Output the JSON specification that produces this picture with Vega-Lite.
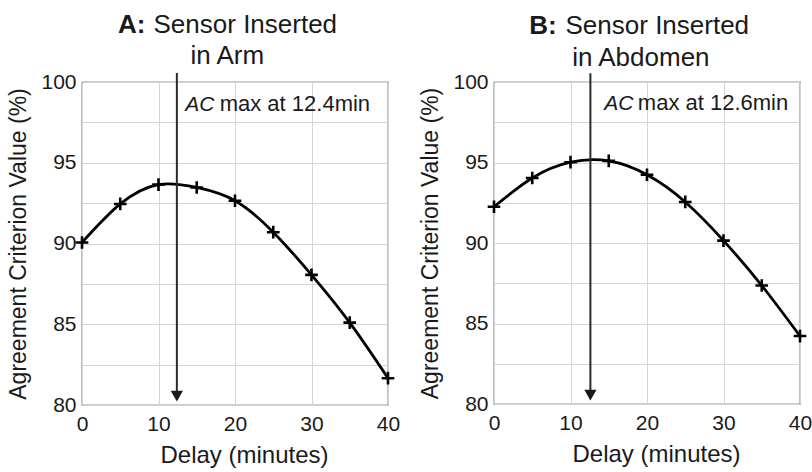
{
  "$schema": "https://vega.github.io/schema/vega-lite/v6.json",
  "padding": {"left": 7, "top": 11, "right": 2, "bottom": 6},
  "background": "white",
  "spacing": 18,
  "config": {
    "font": "Liberation Sans",
    "view": {"stroke": "#333333", "strokeWidth": 1.2},
    "axis": {
      "labelFont": "Liberation Sans",
      "titleFont": "Liberation Sans",
      "labelFontSize": 21,
      "titleFontSize": 23,
      "titleFontWeight": "normal",
      "labelColor": "#1a1a1a",
      "titleColor": "#1a1a1a",
      "ticks": false,
      "domain": false,
      "grid": true,
      "gridColor": "#d4d4d4",
      "gridWidth": 1,
      "labelFlush": false,
      "labelOverlap": false
    },
    "text": {"font": "Liberation Sans", "color": "#1a1a1a"}
  },
  "datasets": {
    "arm": [
      {"delay": 0, "ac": 90.06},
      {"delay": 5, "ac": 92.45},
      {"delay": 10, "ac": 93.65},
      {"delay": 15, "ac": 93.47},
      {"delay": 20, "ac": 92.65},
      {"delay": 25, "ac": 90.7},
      {"delay": 30, "ac": 88.06},
      {"delay": 35, "ac": 85.1},
      {"delay": 40, "ac": 81.66}
    ],
    "abdomen": [
      {"delay": 0, "ac": 92.25},
      {"delay": 5, "ac": 94.04},
      {"delay": 10, "ac": 95.02},
      {"delay": 15, "ac": 95.1},
      {"delay": 20, "ac": 94.24},
      {"delay": 25, "ac": 92.55},
      {"delay": 30, "ac": 90.15},
      {"delay": 35, "ac": 87.36},
      {"delay": 40, "ac": 84.22}
    ]
  },
  "hconcat": [
    {
      "width": 306,
      "height": 323,
      "layer": [
        {
          "data": {"name": "arm"},
          "mark": {"type": "line", "interpolate": "natural", "color": "black", "strokeWidth": 2.8},
          "encoding": {
            "x": {"field": "delay", "type": "quantitative", "scale": {"domain": [0, 40], "nice": false},
                  "axis": {"title": "Delay (minutes)", "titleFontSize": 24, "titleX": 162, "values": [0, 5, 10, 15, 20, 25, 30, 35, 40], "labelPadding": 8, "titlePadding": 9}},
            "y": {"field": "ac", "type": "quantitative", "scale": {"domain": [80, 100], "nice": false, "zero": false},
                  "axis": {"title": "Agreement Criterion Value (%)", "values": [80, 82.5, 85, 87.5, 90, 92.5, 95, 97.5, 100],
                           "labelExpr": "datum.value % 5 === 0 ? datum.label : ''", "labelPadding": 6, "titlePadding": 10}}
          }
        },
        {
          "data": {"name": "arm"},
          "mark": {"type": "point", "shape": "M-1,0H1M0,-1V1", "filled": false, "stroke": "black", "strokeWidth": 2.6, "size": 160, "opacity": 1},
          "encoding": {
            "x": {"field": "delay", "type": "quantitative"},
            "y": {"field": "ac", "type": "quantitative"}
          }
        },
        {
          "data": {"values": [{}]},
          "mark": {"type": "rule", "color": "#2a2a2a", "strokeWidth": 2},
          "encoding": {"x": {"datum": 12.4}, "y": {"datum": 100.55}, "y2": {"datum": 80.8}}
        },
        {
          "data": {"values": [{}]},
          "mark": {"type": "point", "shape": "triangle-down", "filled": true, "color": "#1a1a1a", "size": 150, "opacity": 1},
          "encoding": {"x": {"datum": 12.4}, "y": {"datum": 80.55}}
        },
        {
          "data": {"values": [{}]},
          "mark": {"type": "text", "text": "A:", "fontWeight": "bold", "fontSize": 26, "align": "right", "baseline": "alphabetic"},
          "encoding": {"x": {"datum": 8.3}, "y": {"datum": 103.05}}
        },
        {
          "data": {"values": [{}]},
          "mark": {"type": "text", "text": "Sensor Inserted", "fontSize": 26, "align": "left", "baseline": "alphabetic"},
          "encoding": {"x": {"datum": 9.35}, "y": {"datum": 103.05}}
        },
        {
          "data": {"values": [{}]},
          "mark": {"type": "text", "text": "in Arm", "fontSize": 26, "align": "center", "baseline": "alphabetic"},
          "encoding": {"x": {"datum": 19.0}, "y": {"datum": 101.13}}
        },
        {
          "data": {"values": [{}]},
          "mark": {"type": "text", "text": "AC", "fontStyle": "italic", "fontSize": 21, "align": "left", "baseline": "alphabetic"},
          "encoding": {"x": {"datum": 13.5}, "y": {"datum": 98.2}}
        },
        {
          "data": {"values": [{}]},
          "mark": {"type": "text", "text": "max at 12.4min", "fontSize": 22, "align": "left", "baseline": "alphabetic"},
          "encoding": {"x": {"datum": 18.0}, "y": {"datum": 98.2}}
        }
      ]
    },
    {
      "width": 306,
      "height": 322,
      "layer": [
        {
          "data": {"name": "abdomen"},
          "mark": {"type": "line", "interpolate": "natural", "color": "black", "strokeWidth": 2.8},
          "encoding": {
            "x": {"field": "delay", "type": "quantitative", "scale": {"domain": [0, 40], "nice": false},
                  "axis": {"title": "Delay (minutes)", "titleFontSize": 24, "titleX": 162, "values": [0, 5, 10, 15, 20, 25, 30, 35, 40], "labelPadding": 8, "titlePadding": 9}},
            "y": {"field": "ac", "type": "quantitative", "scale": {"domain": [80, 100], "nice": false, "zero": false},
                  "axis": {"title": "Agreement Criterion Value (%)", "values": [80, 82.5, 85, 87.5, 90, 92.5, 95, 97.5, 100],
                           "labelExpr": "datum.value % 5 === 0 ? datum.label : ''", "labelPadding": 6, "titlePadding": 10}}
          }
        },
        {
          "data": {"name": "abdomen"},
          "mark": {"type": "point", "shape": "M-1,0H1M0,-1V1", "filled": false, "stroke": "black", "strokeWidth": 2.6, "size": 160, "opacity": 1},
          "encoding": {
            "x": {"field": "delay", "type": "quantitative"},
            "y": {"field": "ac", "type": "quantitative"}
          }
        },
        {
          "data": {"values": [{}]},
          "mark": {"type": "rule", "color": "#2a2a2a", "strokeWidth": 2},
          "encoding": {"x": {"datum": 12.6}, "y": {"datum": 100.55}, "y2": {"datum": 80.8}}
        },
        {
          "data": {"values": [{}]},
          "mark": {"type": "point", "shape": "triangle-down", "filled": true, "color": "#1a1a1a", "size": 150, "opacity": 1},
          "encoding": {"x": {"datum": 12.6}, "y": {"datum": 80.55}}
        },
        {
          "data": {"values": [{}]},
          "mark": {"type": "text", "text": "B:", "fontWeight": "bold", "fontSize": 26, "align": "right", "baseline": "alphabetic"},
          "encoding": {"x": {"datum": 8.2}, "y": {"datum": 103.0}}
        },
        {
          "data": {"values": [{}]},
          "mark": {"type": "text", "text": "Sensor Inserted", "fontSize": 26, "align": "left", "baseline": "alphabetic"},
          "encoding": {"x": {"datum": 9.35}, "y": {"datum": 103.0}}
        },
        {
          "data": {"values": [{}]},
          "mark": {"type": "text", "text": "in Abdomen", "fontSize": 26, "align": "center", "baseline": "alphabetic"},
          "encoding": {"x": {"datum": 19.2}, "y": {"datum": 101.0}}
        },
        {
          "data": {"values": [{}]},
          "mark": {"type": "text", "text": "AC", "fontStyle": "italic", "fontSize": 21, "align": "left", "baseline": "alphabetic"},
          "encoding": {"x": {"datum": 14.4}, "y": {"datum": 98.28}}
        },
        {
          "data": {"values": [{}]},
          "mark": {"type": "text", "text": "max at 12.6min", "fontSize": 22, "align": "left", "baseline": "alphabetic"},
          "encoding": {"x": {"datum": 18.8}, "y": {"datum": 98.28}}
        }
      ]
    }
  ]
}
